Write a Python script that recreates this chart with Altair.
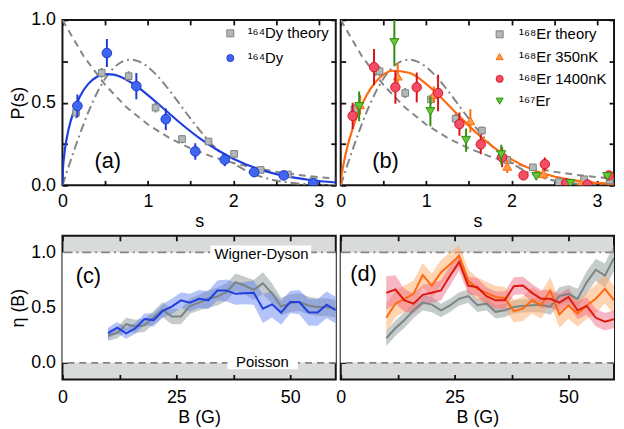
import altair as alt
import pandas as pd

FONT = "Liberation Sans"

# ---------------- panel (a): 164Dy ----------------
dy_s = [0.175, 0.52, 0.865, 1.21, 1.555, 1.90, 2.245, 2.59, 2.935]
dy_p = [0.48, 0.80, 0.60, 0.40, 0.205, 0.155, 0.08, 0.06, 0.012]
dy_err = [0.07, 0.085, 0.08, 0.065, 0.05, 0.04, 0.03, 0.02, 0.015]

dyth_s = [0.16, 0.46, 0.775, 1.09, 1.40, 1.71, 2.01, 2.32, 2.64, 2.94]
dyth_p = [0.44, 0.68, 0.66, 0.47, 0.28, 0.265, 0.19, 0.093, 0.066, 0.03]
dyth_err = [0.035, 0.03, 0.03, 0.03, 0.025, 0.02, 0.02, 0.015, 0.01, 0.01]

# fitted curves
fit_s = [0, 0.005, 0.02, 0.05, 0.1, 0.2, 0.3, 0.4, 0.5, 0.6, 0.8, 1.0, 1.2, 1.4, 1.6, 1.8, 2.0, 2.3, 2.6, 2.9, 3.2]
fit_a_p = [0, 0.09, 0.18, 0.285, 0.396, 0.533, 0.612, 0.655, 0.672, 0.669, 0.623, 0.546, 0.457, 0.368, 0.287, 0.218, 0.161, 0.098, 0.057, 0.032, 0.017]
fit_b_p = [0, 0.034, 0.09, 0.171, 0.275, 0.43, 0.542, 0.62, 0.669, 0.693, 0.681, 0.614, 0.518, 0.412, 0.312, 0.226, 0.157, 0.084, 0.042, 0.019, 0.008]

# Poisson (dashed) and Wigner-Dyson (dash-dot) reference curves
poisson_s = [0, 0.25, 0.5, 0.75, 1.0, 1.25, 1.5, 1.75, 2.0, 2.25, 2.5, 2.75, 3.0, 3.2]
poisson_p = [1.0, 0.779, 0.607, 0.472, 0.368, 0.287, 0.223, 0.174, 0.135, 0.105, 0.082, 0.064, 0.050, 0.041]
wigner_s = [0, 0.1, 0.2, 0.3, 0.4, 0.5, 0.6, 0.7, 0.8, 0.9, 1.0, 1.1, 1.2, 1.3, 1.4, 1.5, 1.6, 1.8, 2.0, 2.2, 2.4, 2.6, 2.8, 3.0, 3.2]
wigner_p = [0, 0.156, 0.305, 0.439, 0.554, 0.645, 0.710, 0.748, 0.760, 0.748, 0.716, 0.668, 0.608, 0.542, 0.472, 0.403, 0.337, 0.222, 0.136, 0.077, 0.041, 0.020, 0.009, 0.004, 0.002]

# ---------------- panel (b): Er ----------------
erth_s = [0.16, 0.455, 0.755, 1.056, 1.345, 1.653, 1.95, 2.25, 2.555, 2.85, 3.15]
erth_p = [0.46, 0.69, 0.558, 0.52, 0.403, 0.331, 0.153, 0.109, 0.02, 0.037, 0.03]
erth_err = [0.03, 0.03, 0.03, 0.03, 0.03, 0.025, 0.02, 0.02, 0.01, 0.01, 0.01]

er350_s = [0.227, 0.667, 1.09, 1.518, 1.95, 2.374, 2.81]
er350_p = [0.487, 0.66, 0.548, 0.39, 0.115, 0.07, 0.012]
er350_err = [0.06, 0.08, 0.05, 0.07, 0.04, 0.03, 0.015]

er1400_s = [0.14, 0.39, 0.64, 0.89, 1.14, 1.39, 1.64, 1.89, 2.14, 2.39, 2.64, 2.89, 3.14]
er1400_p = [0.42, 0.715, 0.593, 0.593, 0.558, 0.37, 0.248, 0.17, 0.06, 0.128, 0.012, 0.005, 0.06]
er1400_err = [0.08, 0.11, 0.1, 0.09, 0.11, 0.07, 0.06, 0.06, 0.02, 0.04, 0.015, 0.01, 0.02]

er167_s = [0.216, 0.628, 1.05, 1.468, 1.88, 2.29, 2.69, 3.12]
er167_p = [0.477, 0.864, 0.447, 0.273, 0.186, 0.054, 0.012, 0.054]
er167_err = [0.09, 0.14, 0.09, 0.07, 0.06, 0.02, 0.015, 0.02]

# ---------------- panel (c) ----------------
B_c = [10, 12, 14, 16, 18, 20, 22, 24, 26, 28, 30, 32, 34, 36, 38, 40, 42, 44, 46, 48, 50, 52, 54, 56, 58, 60]
eta_dy = [0.268, 0.319, 0.268, 0.313, 0.396, 0.387, 0.47, 0.51, 0.566, 0.545, 0.58, 0.566, 0.655,
          0.655, 0.625, 0.631, 0.635, 0.49, 0.53, 0.455, 0.55, 0.55, 0.458, 0.455, 0.527, 0.476]
eta_dy_err = [0.05, 0.05, 0.05, 0.05, 0.05, 0.06, 0.06, 0.07, 0.07, 0.08, 0.08, 0.08, 0.09,
              0.1, 0.1, 0.1, 0.11, 0.13, 0.12, 0.11, 0.1, 0.11, 0.12, 0.12, 0.12, 0.12]
eta_dyth = [0.25, 0.27, 0.35, 0.33, 0.34, 0.41, 0.48, 0.42, 0.42, 0.515, 0.545, 0.58, 0.6,
            0.64, 0.73, 0.70, 0.66, 0.72, 0.63, 0.51, 0.54, 0.55, 0.52, 0.505, 0.505, 0.49]
eta_dyth_err = [0.05, 0.05, 0.06, 0.06, 0.06, 0.06, 0.07, 0.07, 0.07, 0.07, 0.07, 0.08, 0.08,
                0.08, 0.08, 0.08, 0.09, 0.1, 0.09, 0.08, 0.08, 0.08, 0.08, 0.08, 0.08, 0.08]

# ---------------- panel (d) ----------------
B_d = [10, 12, 14, 16, 18, 20, 22, 24, 26, 28, 30, 32, 34, 36, 38, 40, 42, 44, 46, 48, 50, 52, 54, 56, 58, 60]
eta_erth = [0.223, 0.313, 0.387, 0.476, 0.545, 0.527, 0.476, 0.521, 0.58, 0.604, 0.521, 0.536, 0.462,
            0.476, 0.506, 0.515, 0.521, 0.527, 0.506, 0.604, 0.625, 0.58, 0.729, 0.843, 0.79, 0.95]
eta_erth_err = [0.07, 0.07, 0.07, 0.07, 0.07, 0.07, 0.06, 0.06, 0.06, 0.06, 0.06, 0.06, 0.06,
                0.06, 0.06, 0.06, 0.06, 0.07, 0.07, 0.08, 0.08, 0.09, 0.1, 0.1, 0.11, 0.12]
eta_er350 = [0.408, 0.536, 0.58, 0.625, 0.795, 0.70, 0.819, 0.893, 0.968, 0.745, 0.67, 0.634, 0.596,
             0.587, 0.468, 0.49, 0.566, 0.52, 0.655, 0.438, 0.52, 0.446, 0.52, 0.58, 0.67, 0.566]
eta_er350_err = [0.13, 0.12, 0.12, 0.12, 0.11, 0.11, 0.11, 0.11, 0.1, 0.1, 0.1, 0.1, 0.1,
                 0.1, 0.1, 0.11, 0.12, 0.12, 0.12, 0.12, 0.12, 0.12, 0.12, 0.13, 0.13, 0.13]
eta_er1400 = [0.634, 0.664, 0.566, 0.536, 0.616, 0.634, 0.655, 0.789, 0.914, 0.70, 0.685, 0.604, 0.566,
              0.566, 0.694, 0.70, 0.634, 0.58, 0.58, 0.545, 0.596, 0.476, 0.515, 0.408, 0.372, 0.396]
eta_er1400_err = [0.15, 0.13, 0.1, 0.09, 0.09, 0.09, 0.09, 0.09, 0.08, 0.08, 0.08, 0.08, 0.08,
                  0.08, 0.08, 0.08, 0.08, 0.08, 0.08, 0.08, 0.08, 0.08, 0.08, 0.08, 0.08, 0.08]

# limit levels of the Brody parameter
level_wd = [1.0]
level_poisson = [0.0]

# ---------------- layout ----------------
W = 276
TOP_H = 167
BOT_H = 145
S_DOM = [0, 3.2]
P_DOM = [0, 1]
B_DOM = [0, 60]
E_DOM = [-0.15, 1.15]
S_TICKS = [0, 0.5, 1, 1.5, 2, 2.5, 3]
P_TICKS = [0, 0.25, 0.5, 0.75, 1]
B_TICKS = [0, 12.5, 25, 37.5, 50]
E_TICKS = [0, 0.25, 0.5, 0.75, 1]

GREY_LINE = "#858585"
DASH = [7, 5]
DASHDOT = [9, 4, 2, 4]


def tick_axis(orient, values):
    return alt.Axis(orient=orient, values=values, offset=-5, tickSize=5, tickWidth=1.8,
                    tickColor="#111111", labels=False, domain=False, grid=False, title=None)


def label_axis(orient, values, fmt, title, pad):
    return alt.Axis(orient=orient, values=values, format=fmt, ticks=False, tickSize=0,
                    domain=False, grid=False, labelFlush=False, labelOverlap=False,
                    labelPadding=pad, labelFontSize=18, labelFont=FONT, labelColor="black",
                    title=title, titleFontSize=18, titleFont=FONT, titleFontWeight="normal",
                    titleColor="black", titlePadding=3)


def X(dom, axis=None, field="x"):
    return alt.X(f"{field}:Q", scale=alt.Scale(domain=dom, nice=False, zero=False), axis=axis)


def Y(dom, axis=None, field="y"):
    return alt.Y(f"{field}:Q", scale=alt.Scale(domain=dom, nice=False, zero=False), axis=axis)


def top_panel(items, dom, fills, strokes, shapes, sizes, fit_p, fit_color, show_y,
              lx, ly, rowpad, loff, tag):
    xl = label_axis("bottom", [0, 1, 2, 3], "d", "s", 7)
    yl = label_axis("left", [0, 0.5, 1.0], ".1f", "P(s)", 7) if show_y else None

    poisson = alt.Chart(pd.DataFrame({"x": poisson_s, "y": poisson_p})).mark_line(
        color=GREY_LINE, strokeDash=DASH, strokeWidth=2, clip=True
    ).encode(x=X(S_DOM, xl), y=Y(P_DOM, yl))

    wigner = alt.Chart(pd.DataFrame({"x": wigner_s, "y": wigner_p})).mark_line(
        color=GREY_LINE, strokeDash=DASHDOT, strokeWidth=2, clip=True, interpolate="monotone"
    ).encode(x=X(S_DOM, tick_axis("bottom", S_TICKS)), y=Y(P_DOM, tick_axis("left", P_TICKS)))

    fit = alt.Chart(pd.DataFrame({"x": fit_s, "y": fit_p})).mark_line(
        color=fit_color, strokeWidth=2.2, clip=True, interpolate="monotone"
    ).encode(x=X(S_DOM, tick_axis("top", S_TICKS)), y=Y(P_DOM, tick_axis("right", P_TICKS)))

    leg = alt.Legend(orient="none", legendX=lx, legendY=ly, title=None, labelFontSize=15,
                     labelFont=FONT, labelColor="black", symbolSize=50, symbolStrokeWidth=1,
                     rowPadding=rowpad, padding=0, labelOffset=loff, labelLimit=300)
    fill_scale = alt.Scale(domain=dom, range=fills)
    stroke_scale = alt.Scale(domain=dom, range=strokes)
    shape_scale = alt.Scale(domain=dom, range=shapes)

    layers = [poisson, wigner, fit]
    for i, (name, xs, ys, es) in enumerate(items):
        df = pd.DataFrame({"x": xs, "y": ys, "series": name,
                           "lo": [a - b for a, b in zip(ys, es)],
                           "hi": [a + b for a, b in zip(ys, es)]})
        layers.append(alt.Chart(df).mark_rule(strokeWidth=2, color=strokes[i], clip=True).encode(
            x=X(S_DOM), y=Y(P_DOM, field="lo"), y2="hi:Q"))
        layers.append(alt.Chart(df).mark_point(
            filled=True, opacity=1, strokeWidth=1, size=sizes[i], clip=True).encode(
            x=X(S_DOM), y=Y(P_DOM),
            fill=alt.Fill("series:N", scale=fill_scale, legend=leg),
            stroke=alt.Stroke("series:N", scale=stroke_scale, legend=leg),
            shape=alt.Shape("series:N", scale=shape_scale, legend=leg)))

    layers.append(alt.Chart(pd.DataFrame({"x": [tag[1]], "y": [tag[2]], "t": [tag[0]]})).mark_text(
        fontSize=22, font=FONT, color="black", align="center", baseline="middle"
    ).encode(x=X(S_DOM), y=Y(P_DOM), text="t:N"))

    return alt.layer(*layers).resolve_axis(
        x="independent", y="independent"
    ).properties(width=W, height=TOP_H,
                 view=alt.ViewBackground(fill="white", stroke="#151515", strokeWidth=2))


def bottom_panel(bands, lines, show_y, tag, annotate):
    xl = label_axis("bottom", [0, 25, 50], "d", "B (G)", 9)
    yl = label_axis("left", [0, 0.5, 1.0], ".1f", "η (B)", 7) if show_y else None

    bg = alt.Chart(pd.DataFrame({"x": [B_DOM[0]], "x2": [B_DOM[1]], "y": level_poisson, "y2": level_wd})
                   ).mark_rect(color="white").encode(
        x=X(B_DOM, xl), x2="x2:Q", y=Y(E_DOM, yl), y2="y2:Q")

    r_wd = alt.Chart(pd.DataFrame({"y": level_wd})).mark_rule(
        color=GREY_LINE, strokeDash=DASHDOT, strokeWidth=1.8).encode(y=Y(E_DOM))
    r_po = alt.Chart(pd.DataFrame({"y": level_poisson})).mark_rule(
        color=GREY_LINE, strokeDash=DASH, strokeWidth=1.8).encode(y=Y(E_DOM))

    layers = [bg, r_wd, r_po]
    tick_sets = [
        (tick_axis("bottom", B_TICKS), tick_axis("left", E_TICKS)),
        (tick_axis("top", B_TICKS), tick_axis("right", E_TICKS)),
    ]
    for i, (bx, by, bl, col, op) in enumerate(bands):
        df = pd.DataFrame({"x": bx, "lo": [a - b for a, b in zip(by, bl)],
                           "hi": [a + b for a, b in zip(by, bl)]})
        if i < 2:
            ax_x, ax_y = tick_sets[i]
        else:
            ax_x, ax_y = None, None
        layers.append(alt.Chart(df).mark_area(color=col, opacity=op, clip=True).encode(
            x=X(B_DOM, ax_x), y=Y(E_DOM, ax_y, field="lo"), y2="hi:Q"))
    for lxs, lys, col in lines:
        layers.append(alt.Chart(pd.DataFrame({"x": lxs, "y": lys})).mark_line(
            color=col, strokeWidth=2, clip=True).encode(x=X(B_DOM), y=Y(E_DOM)))

    if annotate:
        boxes = pd.DataFrame({"x": [32.5, 36.2], "x2": [54.6, 51.7],
                              "y": [0.917, -0.059], "y2": [1.0625, 0.08]})
        layers.append(alt.Chart(boxes).mark_rect(color="white").encode(
            x=X(B_DOM), x2="x2:Q", y=Y(E_DOM), y2="y2:Q"))
        labs = pd.DataFrame({"x": [43.7, 43.9], "y": [0.985, 0.01],
                             "t": ["Wigner-Dyson", "Poisson"]})
        layers.append(alt.Chart(labs).mark_text(
            fontSize=15, font=FONT, color="black", align="center", baseline="middle"
        ).encode(x=X(B_DOM), y=Y(E_DOM), text="t:N"))

    layers.append(alt.Chart(pd.DataFrame({"x": [tag[1]], "y": [tag[2]], "t": [tag[0]]})).mark_text(
        fontSize=22, font=FONT, color="black", align="center", baseline="middle"
    ).encode(x=X(B_DOM), y=Y(E_DOM), text="t:N"))

    return alt.layer(*layers).resolve_axis(x="independent", y="independent").properties(
        width=W, height=BOT_H,
        view=alt.ViewBackground(fill="#d8dbda", stroke="#151515", strokeWidth=2))


dom_a = ["¹⁶⁴Dy theory", "¹⁶⁴Dy"]
panel_a = top_panel(
    [(dom_a[0], dyth_s, dyth_p, dyth_err), (dom_a[1], dy_s, dy_p, dy_err)],
    dom_a, ["#b3b8b7", "#3f66f0"], ["#7d8584", "#1e3ad6"], ["square", "circle"], [45, 95],
    fit_a_p, "#1f3fe0", True, 162, 6, 9, 10, ("(a)", 0.53, 0.145))

dom_b = ["¹⁶⁸Er theory", "¹⁶⁸Er 350nK", "¹⁶⁸Er 1400nK", "¹⁶⁷Er"]
panel_b = top_panel(
    [(dom_b[0], erth_s, erth_p, erth_err), (dom_b[1], er350_s, er350_p, er350_err),
     (dom_b[2], er1400_s, er1400_p, er1400_err), (dom_b[3], er167_s, er167_p, er167_err)],
    dom_b, ["#b3b8b7", "#ff9a4a", "#f24f66", "#63c932"],
    ["#7d8584", "#ff6c0a", "#d8141c", "#2f8f12"],
    ["square", "triangle-up", "circle", "triangle-down"], [45, 80, 90, 80],
    fit_b_p, "#ff6a10", False, 153, 7, 6.5, 12, ("(b)", 0.525, 0.145))

panel_c = bottom_panel(
    [(B_c, eta_dyth, eta_dyth_err, "#98a2a0", 0.55),
     (B_c, eta_dy, eta_dy_err, "#5a7cf0", 0.45)],
    [(B_c, eta_dyth, "#7b8583"), (B_c, eta_dy, "#1f3fe0")],
    True, ("(c)", 5.7, 0.79), True)

panel_d = bottom_panel(
    [(B_d, eta_erth, eta_erth_err, "#98a2a0", 0.55),
     (B_d, eta_er350, eta_er350_err, "#ffaa66", 0.5),
     (B_d, eta_er1400, eta_er1400_err, "#f0607f", 0.45)],
    [(B_d, eta_erth, "#7b8583"), (B_d, eta_er350, "#ff6a10"), (B_d, eta_er1400, "#dd1a10")],
    False, ("(d)", 5.0, 0.80), False)

chart = alt.concat(
    panel_a, panel_b, panel_c, panel_d, columns=2, bounds="flush",
    spacing={"row": 51, "column": 5},
).resolve_scale(
    fill="independent", stroke="independent", shape="independent"
).properties(
    padding={"top": 0, "left": 0, "right": 0, "bottom": 0}
).configure(font=FONT)

chart.save("out.html", embed_options={"renderer": "svg", "actions": False})
